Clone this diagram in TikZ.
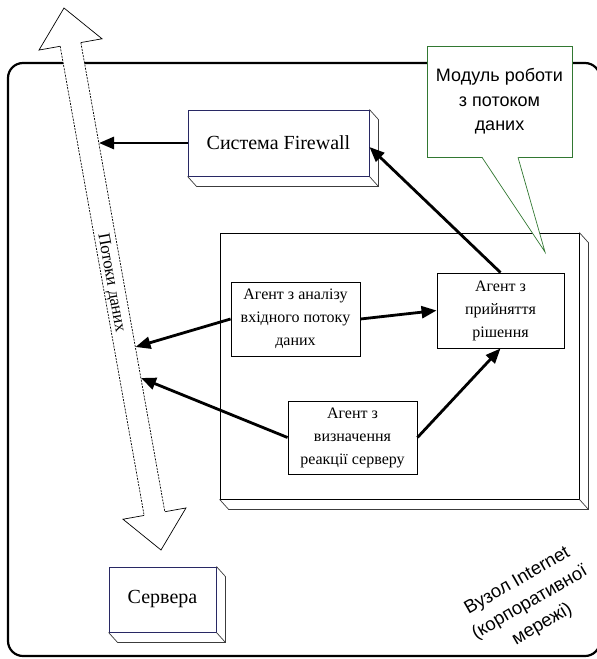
\documentclass[tikz,border=0pt]{standalone}
\usepackage{fontspec}
\setmainfont{Liberation Serif}
\newfontfamily\labelsans{Liberation Sans}
\usepackage{xcolor}
\usetikzlibrary{arrows.meta, positioning, calc}
\definecolor{boxedge}{RGB}{40,40,100}
\definecolor{calloutedge}{RGB}{50,120,50}
\definecolor{depthedge}{RGB}{60,60,60}
\tikzset{
    unit/.style={rectangle, inner sep=0pt, draw=boxedge, line width=0.9pt, fill=white, text centered, font=\fontsize{20}{24}\selectfont},
    agent/.style={rectangle, inner sep=0pt, draw=black, line width=0.9pt, fill=white, align=center, font=\fontsize{16}{23}\selectfont},
    depth/.style={draw=depthedge, line width=0.7pt},
    callout/.style={rectangle, inner sep=0pt, draw=calloutedge, line width=0.7pt, fill=white, align=center, font=\labelsans\fontsize{18}{24.5}\selectfont},
    arrow/.style={line width=2.8pt, -{Triangle[length=15pt,width=12pt]}, color=black},
    flowedge/.style={line width=0.7pt, dash pattern=on 2pt off 1.2pt}
}
% side faces of a raised box
\newcommand{\boxdepth}[1]{%
    \draw[depth] (#1.north east) -- ++(9,10) |- ([shift={(9,10)}]#1.south west) -- (#1.south west);
    \draw[depth] (#1.south east) -- ++(9,10);}

\begin{document}
\begin{tikzpicture}[x=1pt, y=-1pt]
    \useasboundingbox (0,0) rectangle (597,659);

    % Network node frame
    \draw[line width=2.2pt, rounded corners=15pt] (8,63) rectangle (600,656);

    % Data flow arrow
    \coordinate (flowtop) at (64,8);
    \coordinate (flowbot) at (161,550);
    \coordinate (headtop) at ($(flowtop)!37pt!(flowbot)$);
    \coordinate (headbot) at ($(flowbot)!37pt!(flowtop)$);
    \coordinate (lheadtop) at ($(headtop)!32pt!90:(flowbot)$);
    \coordinate (rheadtop) at ($(headtop)!32pt!-90:(flowbot)$);
    \coordinate (lshafttop) at ($(headtop)!10.5pt!90:(flowbot)$);
    \coordinate (rshafttop) at ($(headtop)!10.5pt!-90:(flowbot)$);
    \coordinate (lheadbot) at ($(headbot)!32pt!90:(flowbot)$);
    \coordinate (rheadbot) at ($(headbot)!32pt!-90:(flowbot)$);
    \coordinate (lshaftbot) at ($(headbot)!10.5pt!90:(flowbot)$);
    \coordinate (rshaftbot) at ($(headbot)!10.5pt!-90:(flowbot)$);
    \fill[white] (flowtop) -- (lheadtop) -- (lshafttop) -- (lshaftbot) -- (lheadbot) -- (flowbot)
        -- (rheadbot) -- (rshaftbot) -- (rshafttop) -- (rheadtop) -- cycle;
    \draw[line width=0.7pt, line join=miter] (lshafttop) -- (lheadtop) -- (flowtop) -- (rheadtop) -- (rshafttop);
    \draw[line width=0.7pt, line join=miter] (lshaftbot) -- (lheadbot) -- (flowbot) -- (rheadbot) -- (rshaftbot);
    \draw[flowedge] (lshafttop) -- (lshaftbot);
    \draw[flowedge] (rshafttop) -- (rshaftbot);
    \node (flowlabel) [rotate=-79.85, font=\fontsize{17}{20}\selectfont] at (111,283) {Потоки даних};

    % Nodes
    \node (firewall) [unit, minimum width=181pt, minimum height=66pt] at (278.5,143) {Система Firewall};
    \boxdepth{firewall}
    \node (servers) [unit, minimum width=107pt, minimum height=65pt] at (162.5,599.5) {Сервера};
    \boxdepth{servers}
    \node (agents) [rectangle, draw=black, line width=0.8pt, fill=white, minimum width=359pt, minimum height=266pt] at (399.5,366) {};
    \boxdepth{agents}
    \node (analysis) [agent, minimum width=129pt, minimum height=74pt] at (295.5,319) {Агент з аналізу\\вхідного потоку\\даних};
    \node (decide) [agent, minimum width=127pt, minimum height=75pt] at (500.5,310.5) {Агент з\\прийняття\\рішення};
    \node (reaction) [agent, minimum width=129pt, minimum height=73pt] at (352.5,437.5) {Агент з\\визначення\\реакції серверу};

    % Callout
    \node (modlabel) [callout, minimum width=145pt, minimum height=111pt] at (499.5,101.5) {Модуль роботи\\з потоком\\даних};
    \coordinate (modpin) at (545,252);
    \fill[white] ([xshift=-17.5pt, yshift=0.6pt]modlabel.south) -- (modpin) -- ([xshift=18.5pt, yshift=0.6pt]modlabel.south) -- cycle;
    \draw[draw=calloutedge, line width=0.7pt] ([xshift=-17.5pt]modlabel.south) -- (modpin) -- ([xshift=18.5pt]modlabel.south);

    % Frame label
    \node (nodelabel) [rotate=30, align=center, font=\labelsans\fontsize{18.5}{25}\selectfont] at (530,603) {Вузол Internet\\(корпоративної\\мережі)};

    % Arrows
    \coordinate (flowin1) at (99,143);
    \coordinate (flowin2) at (135.5,347);
    \coordinate (flowin3) at (141,378);
    \draw[arrow] (firewall.west) -- (flowin1);
    \draw[arrow] (decide.north) -- ([yshift=-4pt]firewall.east);
    \draw[arrow] (analysis.east) -- (decide.west);
    \draw[arrow] (analysis.west) -- (flowin2);
    \draw[arrow] (reaction.west) -- (flowin3);
    \draw[arrow] (reaction.east) -- (decide.south);
\end{tikzpicture}
\end{document}
